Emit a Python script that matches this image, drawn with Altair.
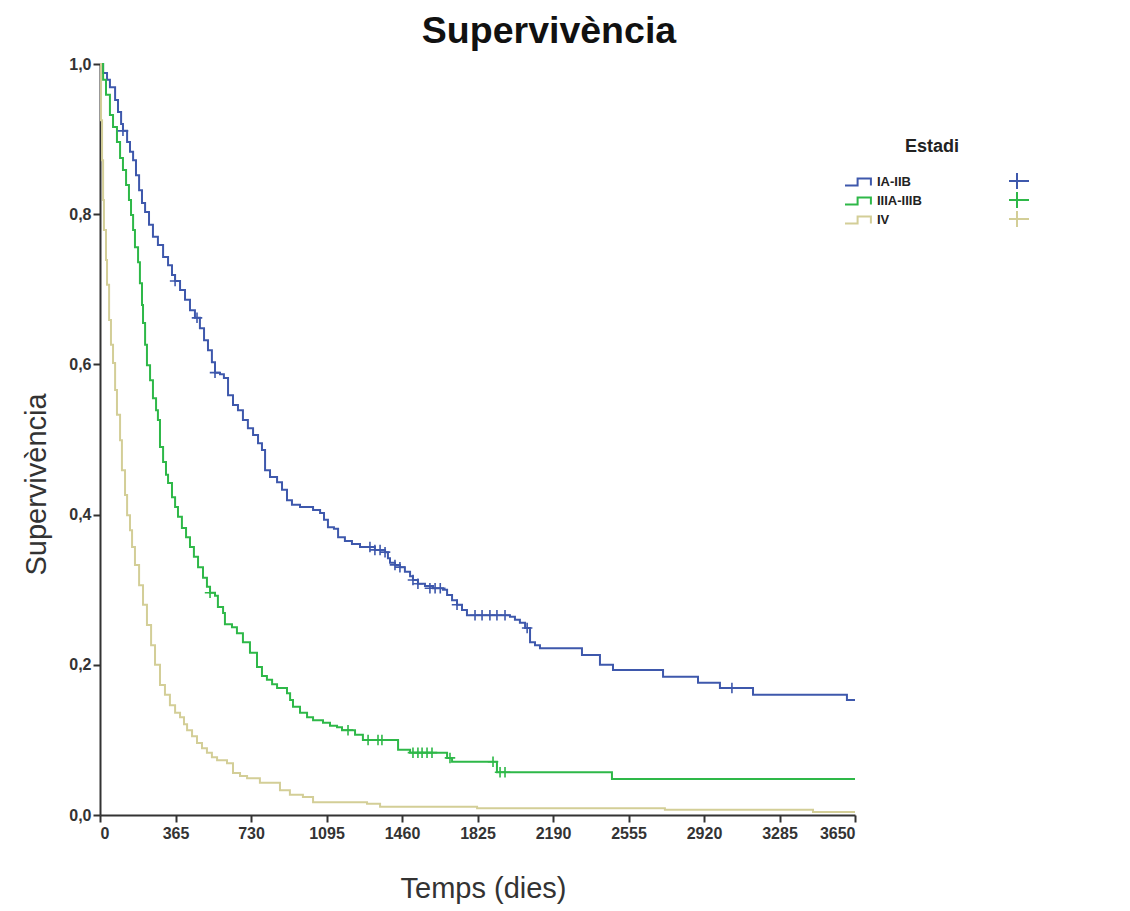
import altair as alt
import pandas as pd

# ---- data ----
groups = ["IA-IIB", "IIIA-IIIB", "IV"]
colors = ["#3E58AC", "#2EB848", "#D3CE97"]

blue_days = [0, 15, 34, 48, 73, 87, 102, 111, 131, 145, 160, 174, 189, 203, 218, 237, 256, 280, 305, 329,
             348, 363, 387, 411, 435, 459, 483, 503, 522, 541, 556, 580, 599, 619, 643, 667, 691, 715, 740,
             764, 783, 798, 822, 856, 880, 904, 928, 967, 1030, 1064, 1083, 1102, 1131, 1151, 1184, 1218,
             1257, 1329, 1378, 1392, 1402, 1426, 1450, 1474, 1499, 1513, 1537, 1571, 1610, 1658, 1678, 1702,
             1726, 1750, 1774, 1982, 2006, 2030, 2055, 2079, 2103, 2127, 2330, 2417, 2480, 2722, 2891, 2997,
             3157, 3611, 3650]
blue_surv = [1.0, 0.988, 0.979, 0.969, 0.952, 0.936, 0.920, 0.911, 0.896, 0.883, 0.872, 0.852, 0.832, 0.815,
             0.803, 0.786, 0.770, 0.759, 0.743, 0.732, 0.719, 0.711, 0.699, 0.686, 0.672, 0.662, 0.648, 0.632,
             0.619, 0.603, 0.589, 0.587, 0.582, 0.559, 0.546, 0.539, 0.526, 0.515, 0.506, 0.495, 0.486, 0.459,
             0.450, 0.443, 0.433, 0.419, 0.413, 0.410, 0.406, 0.402, 0.393, 0.383, 0.381, 0.370, 0.365, 0.361,
             0.357, 0.353, 0.350, 0.342, 0.336, 0.333, 0.330, 0.324, 0.318, 0.313, 0.308, 0.305, 0.302, 0.300,
             0.293, 0.286, 0.280, 0.273, 0.266, 0.264, 0.260, 0.256, 0.249, 0.230, 0.226, 0.222, 0.213, 0.200,
             0.193, 0.184, 0.176, 0.169, 0.160, 0.153, 0.153]
blue_cens_days = [111, 363, 469, 556, 1305, 1329, 1354, 1378, 1426, 1450, 1513, 1537, 1595, 1620, 1645,
                  1726, 1813, 1847, 1885, 1919, 1958, 2065, 3055]
blue_cens_surv = [0.911, 0.711, 0.662, 0.589, 0.357, 0.353, 0.353, 0.350, 0.333, 0.330, 0.313, 0.308,
                  0.302, 0.302, 0.302, 0.280, 0.266, 0.266, 0.266, 0.266, 0.266, 0.249, 0.169]

green_days = [0, 15, 29, 48, 63, 82, 97, 111, 126, 140, 150, 160, 169, 184, 193, 203, 208, 218, 227, 242,
              256, 271, 280, 290, 305, 319, 329, 348, 363, 377, 396, 416, 435, 454, 474, 498, 517, 532, 556,
              570, 595, 604, 638, 662, 691, 725, 759, 783, 807, 832, 856, 904, 919, 933, 967, 1001, 1030,
              1078, 1112, 1146, 1170, 1233, 1271, 1441, 1499, 1678, 1702, 1919, 2475, 3650]
green_surv = [1.0, 0.979, 0.959, 0.932, 0.916, 0.896, 0.875, 0.859, 0.839, 0.819, 0.799, 0.779, 0.756,
              0.736, 0.708, 0.679, 0.655, 0.626, 0.599, 0.579, 0.555, 0.539, 0.526, 0.490, 0.470, 0.453,
              0.442, 0.423, 0.410, 0.397, 0.382, 0.370, 0.357, 0.344, 0.330, 0.316, 0.304, 0.296, 0.292,
              0.277, 0.269, 0.254, 0.250, 0.242, 0.230, 0.216, 0.197, 0.185, 0.180, 0.174, 0.169, 0.162,
              0.153, 0.144, 0.136, 0.130, 0.126, 0.123, 0.119, 0.117, 0.113, 0.107, 0.100, 0.087, 0.083,
              0.076, 0.071, 0.057, 0.048, 0.048]
green_cens_days = [532, 1199, 1296, 1344, 1363, 1513, 1537, 1557, 1581, 1605, 1692, 1900, 1934, 1958]
green_cens_surv = [0.296, 0.113, 0.100, 0.100, 0.100, 0.083, 0.083, 0.083, 0.083, 0.083, 0.076, 0.071,
                   0.057, 0.057]

beige_days = [0, 5, 10, 15, 19, 29, 34, 44, 53, 63, 73, 82, 97, 106, 121, 131, 145, 155, 169, 189, 208,
              227, 247, 266, 290, 314, 338, 363, 387, 406, 421, 445, 469, 493, 517, 541, 566, 614, 643, 677,
              711, 773, 870, 918, 981, 1030, 1291, 1354, 1823, 2731, 3447, 3650]
beige_surv = [1.0, 0.925, 0.872, 0.819, 0.779, 0.739, 0.706, 0.659, 0.626, 0.602, 0.566, 0.533, 0.499,
              0.459, 0.426, 0.399, 0.379, 0.357, 0.333, 0.306, 0.280, 0.253, 0.226, 0.200, 0.173, 0.160,
              0.146, 0.136, 0.130, 0.121, 0.113, 0.105, 0.096, 0.089, 0.083, 0.077, 0.073, 0.069, 0.056,
              0.052, 0.049, 0.043, 0.033, 0.027, 0.024, 0.017, 0.015, 0.011, 0.009, 0.007, 0.004, 0.004]

x_ticks = [0, 365, 730, 1095, 1460, 1825, 2190, 2555, 2920, 3285, 3650]
y_ticks = [0.0, 0.2, 0.4, 0.6, 0.8, 1.0]

# ---- tables ----
curves = pd.concat([
    pd.DataFrame({"dia": blue_days, "surv": blue_surv, "Estadi": groups[0]}),
    pd.DataFrame({"dia": green_days, "surv": green_surv, "Estadi": groups[1]}),
    pd.DataFrame({"dia": beige_days, "surv": beige_surv, "Estadi": groups[2]}),
], ignore_index=True)
censored = pd.concat([
    pd.DataFrame({"dia": blue_cens_days, "surv": blue_cens_surv, "Estadi": groups[0]}),
    pd.DataFrame({"dia": green_cens_days, "surv": green_cens_surv, "Estadi": groups[1]}),
    pd.DataFrame({"dia": [None], "surv": [None], "Estadi": groups[2]}),
], ignore_index=True)

FONT = "Liberation Sans"

x_enc = alt.X("dia:Q", scale=alt.Scale(domain=[0, 3650], nice=False),
              axis=alt.Axis(values=x_ticks, format="d", title="Temps (dies)", grid=False,
                            labelFont=FONT, labelFontWeight="bold", labelFontSize=16,
                            labelColor="#333", labelPadding=3, tickSize=7, tickWidth=2,
                            tickColor="#333", domainColor="#333", domainWidth=2,
                            titleFont=FONT, titleFontSize=29, titleFontWeight="normal",
                            titleColor="#333", titleBaseline="alphabetic", titleAlign="center",
                            titleY=82, titleX=383))
y_enc = alt.Y("surv:Q", scale=alt.Scale(domain=[0, 1], nice=False),
              axis=alt.Axis(values=y_ticks, format=".1f", labelExpr="replace(datum.label, '.', ',')",
                            title="Supervivència", grid=False,
                            labelFont=FONT, labelFontWeight="bold", labelFontSize=16,
                            labelColor="#333", labelPadding=2, tickSize=7, tickWidth=2,
                            tickColor="#333", domainColor="#333", domainWidth=2,
                            titleFont=FONT, titleFontSize=29, titleFontWeight="normal",
                            titleColor="#333", titleBaseline="alphabetic", titleAlign="center",
                            titleAngle=270, titleX=-55, titleY=420))

line_legend = alt.Legend(title=None, orient="none", legendX=751, legendY=110, padding=0,
                         symbolType="M-2,0.5H-0.2V-0.5H1.7V0.5", symbolSize=196,
                         symbolStrokeWidth=2, labelFont=FONT, labelFontWeight="bold",
                         labelFontSize=13, labelColor="#222", labelOffset=10, rowPadding=3)
plus_legend = alt.Legend(title=None, orient="none", legendX=909, legendY=109, padding=0,
                         symbolType="M-3,0H3M0,-1.6V1.6", symbolSize=196,
                         symbolStrokeWidth=2, labelExpr="''", labelFontSize=13,
                         clipHeight=16, rowPadding=3)

lines = alt.Chart(curves).mark_line(interpolate="step-after", strokeWidth=2).encode(
    x=x_enc, y=y_enc,
    color=alt.Color("Estadi:N", scale=alt.Scale(domain=groups, range=colors), legend=line_legend),
)
marks = alt.Chart(censored).mark_point(shape="M-1,0H1M0,-1V1", size=110, filled=False,
                                        strokeWidth=1.6, opacity=1).encode(
    x="dia:Q", y="surv:Q",
    color=alt.Color("Estadi:N", scale=alt.Scale(domain=groups, range=colors), legend=plus_legend),
)

title = alt.Chart(pd.DataFrame({"t": ["Supervivència"]})).mark_text(
    font=FONT, fontSize=37.5, fontWeight="bold", color="#111", baseline="alphabetic",
    align="center").encode(text="t:N", x=alt.value(449), y=alt.value(-21))
leg_title = alt.Chart(pd.DataFrame({"t": ["Estadi"]})).mark_text(
    font=FONT, fontSize=18, fontWeight="bold", color="#222", baseline="middle",
    align="center").encode(text="t:N", x=alt.value(832), y=alt.value(83))

chart = alt.layer(lines, marks, title, leg_title).resolve_scale(color="independent").properties(
    width=755, height=751,
    padding={"left": 100, "top": 64, "right": 275, "bottom": 96},
    autosize=alt.AutoSizeParams(type="none"),
    background="white",
).configure_view(stroke=None)

chart.save("out.html", embed_options={"renderer": "svg", "actions": False})
